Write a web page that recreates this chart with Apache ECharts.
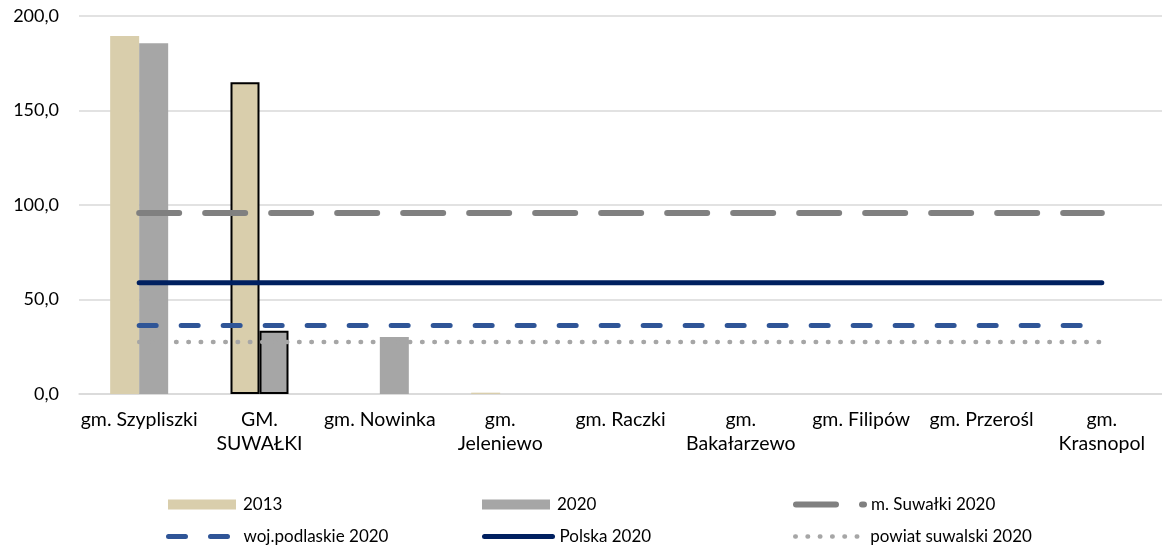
<!DOCTYPE html>
<html><head><meta charset="utf-8">
<script src="https://cdn.jsdelivr.net/npm/echarts@6/dist/echarts.min.js"></script>
<style>html,body{margin:0;padding:0;background:#fff}#c{width:1162px;height:548px}</style>
</head><body><div id="c"></div>
<script>
const categories = ['gm. Szypliszki', 'GM.\nSUWAŁKI', 'gm. Nowinka', 'gm.\nJeleniewo', 'gm. Raczki', 'gm.\nBakałarzewo', 'gm. Filipów', 'gm. Przerośl', 'gm.\nKrasnopol'];
const values2013 = [189.4, 165.0, 0, 0.7, 0, 0, 0, 0, 0];
const values2020 = [185.6, 33.4, 30.1, 0, 0, 0, 0, 0, 0];
const mSuwalki2020 = [95.8, 95.8, 95.8, 95.8, 95.8, 95.8, 95.8, 95.8, 95.8];
const wojPodlaskie2020 = [36.2, 36.2, 36.2, 36.2, 36.2, 36.2, 36.2, 36.2, 36.2];
const polska2020 = [58.8, 58.8, 58.8, 58.8, 58.8, 58.8, 58.8, 58.8, 58.8];
const powiatSuwalski2020 = [27.5, 27.5, 27.5, 27.5, 27.5, 27.5, 27.5, 27.5, 27.5];
const yMin = 0, yMax = 200, yStep = 50;

const FONT = 'Lato';
const outlined = 1; // index of the category whose bars have a black outline
function barData(vals) {
  return vals.map((v, i) => i === outlined
    ? { value: v, itemStyle: { borderColor: '#000', borderWidth: 2 } }
    : v);
}
const styles = {
  'm. Suwałki 2020': { color: '#808080', width: 6, type: [40, 26], cap: 'round' },
  'woj.podlaskie 2020': { color: '#2F5597', width: 5, type: [17, 25], cap: 'round' },
  'Polska 2020': { color: '#002060', width: 5, type: 'solid', cap: 'round' },
  'powiat suwalski 2020': { color: '#A6A6A6', width: 4.5, type: [0.5, 11.8], cap: 'round' }
};
const legendBase = {
  itemWidth: 68, itemHeight: 10, itemGap: 0,
  textStyle: { fontFamily: FONT, fontSize: 17, color: '#000', padding: [0, 0, 0, 2] },
  selectedMode: false
};
function lg(name, left, top, isBar) {
  const o = Object.assign({}, legendBase, { data: [name], left: left, top: top });
  if (isBar) o.icon = 'rect';
  else {
    o.itemStyle = { opacity: 0 };
    const s = styles[name];
    o.lineStyle = { color: s.color, width: s.width, type: s.type, cap: s.cap };
  }
  return o;
}
function lineSeries(name, data) {
  return { name: name, type: 'line', data: data, symbol: 'none', z: 5,
    itemStyle: { color: styles[name].color }, lineStyle: styles[name] };
}
const chart = echarts.init(document.getElementById('c'), null, { renderer: 'canvas' });
chart.setOption({
  animation: false,
  backgroundColor: '#fff',
  grid: { left: 79, right: -4, top: 16, bottom: 154, containLabel: false },
  legend: [
    lg('2013', 163, 491, true),
    lg('2020', 477, 491, true),
    lg('m. Suwałki 2020', 788, 491),
    lg('woj.podlaskie 2020', 161, 523),
    lg('Polska 2020', 477, 523),
    lg('powiat suwalski 2020', 788, 523)
  ],
  xAxis: {
    type: 'category', data: categories,
    axisLine: { show: true, lineStyle: { color: '#D9D9D9', width: 1.5 } },
    axisTick: { show: false },
    axisLabel: { fontFamily: FONT, fontSize: 19.5, color: '#000', lineHeight: 24, margin: 14, interval: 0 }
  },
  yAxis: {
    type: 'value', min: yMin, max: yMax, interval: yStep,
    axisLine: { show: false }, axisTick: { show: false },
    splitLine: { lineStyle: { color: '#D9D9D9', width: 1.5 } },
    axisLabel: { fontFamily: FONT, fontSize: 18, color: '#000', margin: 20,
      formatter: v => v.toFixed(1).replace('.', ',') }
  },
  series: [
    { name: '2013', type: 'bar', data: barData(values2013), barWidth: 29, barGap: '0%',
      itemStyle: { color: '#D9CEAC' }, z: 2 },
    { name: '2020', type: 'bar', data: barData(values2020), barWidth: 29, barGap: '0%',
      itemStyle: { color: '#A6A6A6' }, z: 2 },
    lineSeries('m. Suwałki 2020', mSuwalki2020),
    lineSeries('woj.podlaskie 2020', wojPodlaskie2020),
    lineSeries('Polska 2020', polska2020),
    lineSeries('powiat suwalski 2020', powiatSuwalski2020)
  ]
});
</script></body></html>
